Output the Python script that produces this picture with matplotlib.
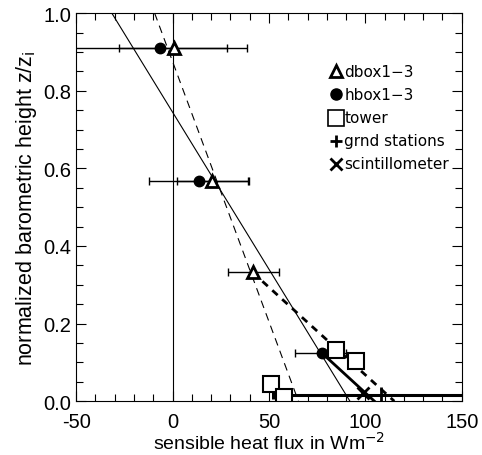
import numpy as np
import matplotlib.pyplot as plt

plt.rcParams['font.family'] = ['Liberation Sans', 'DejaVu Sans']
plt.rcParams['axes.unicode_minus'] = False

# dbox1-3 (triangles) with x error ranges
dbox_h = [0.5, 20.7, 41.5]
dbox_z = [0.91, 0.567, 0.332]
dbox_lo = [-60.0, 2.5, 28.5]
dbox_hi = [38.5, 39.0, 55.0]

# hbox1-3 (circles)
hbox_h = [-6.7, 13.5, 77.5]
hbox_z = [0.91, 0.567, 0.124]
hbox_lo = [-28.0, -12.0, 63.5]
hbox_hi = [28.0, 39.5, 90.0]

# tower (squares)
tower_h = [85.0, 95.0, 51.3, 58.0]
tower_z = [0.131, 0.103, 0.044, 0.012]

# ground stations
grnd_h = [108.0]
grnd_z = [0.015]
grnd_lo = [52.0]
grnd_hi = [170.0]

# scintillometer
scint_h = [98.7]
scint_z = [0.02]

# fitted profiles (end points)
fit_thin_h = [-31.5, 92.0]
fit_thin_z = [1.0, 0.0]
fit_dash_h = [-9.3, 65.3]
fit_dash_z = [1.0, 0.0]
fit_thick_dash_h = [41.5, 115.0]
fit_thick_dash_z = [0.332, 0.0]
fit_thick_h = [77.5, 104.7]
fit_thick_z = [0.124, 0.0]

fig = plt.figure(figsize=(4.82, 4.56), dpi=100)
ax = fig.add_axes([0.158, 0.118, 0.8, 0.851])

ax.axvline(0, color='k', lw=0.8)
ax.plot(fit_thin_h, fit_thin_z, color='k', lw=0.8)
ax.plot(fit_dash_h, fit_dash_z, color='k', lw=0.8, ls=(0, (7, 5)))
ax.plot(fit_thick_dash_h, fit_thick_dash_z, color='k', lw=2.0, ls=(0, (2.6, 2.2)))
ax.plot(fit_thick_h, fit_thick_z, color='k', lw=2.0)


def hbars(h, z, lo, hi, lw=1.0):
    h = np.array(h)
    err = [h - np.array(lo), np.array(hi) - h]
    ax.errorbar(h, z, xerr=err, fmt='none', ecolor='k', elinewidth=lw,
                capsize=3, capthick=lw)


hbars(dbox_h, dbox_z, dbox_lo, dbox_hi)
hbars(hbox_h, hbox_z, hbox_lo, hbox_hi)
hbars(grnd_h, grnd_z, grnd_lo, grnd_hi, lw=2.2)

ax.plot(tower_h, tower_z, 's', ms=11, mfc='white', mec='k', mew=1.5)
ax.plot(hbox_h, hbox_z, 'o', ms=7.5, color='k')
ax.plot(dbox_h, dbox_z, '^', ms=9, mfc='white', mec='k', mew=2)
ax.plot(grnd_h, grnd_z, '+', ms=12, mew=2, color='k')
ax.plot(scint_h, scint_z, 'x', ms=9, mew=2, color='k')

# legend drawn as symbols + text
leg_labels = ['dbox1\u22123', 'hbox1\u22123', 'tower', 'grnd stations', 'scintillometer']
leg_markers = [('^', 'white', 2), ('o', 'k', 1), ('s', 'white', 1.2), ('+', 'k', 2), ('x', 'k', 2)]
leg_sizes = [9, 8, 12, 9, 9]
for i, (lab, (m, fc, mw), s) in enumerate(zip(leg_labels, leg_markers, leg_sizes)):
    yy = 0.85 - i * 0.0595
    ax.plot([0.675], [yy], m, transform=ax.transAxes, ms=s, mfc=fc, mec='k',
            mew=mw, color='k', clip_on=False)
    ax.text(0.695, yy, lab, transform=ax.transAxes, fontsize=11,
            va='center', ha='left', family='DejaVu Sans')

ax.set_xlim(-50, 150)
ax.set_ylim(0, 1.0)
ax.set_xticks([-50, 0, 50, 100, 150])
ax.set_xticks(np.arange(-50, 151, 10), minor=True)
ax.set_yticks([0, 0.2, 0.4, 0.6, 0.8, 1.0])
ax.set_yticks(np.arange(0, 1.001, 0.05), minor=True)
ax.set_yticklabels(['0.0', '0.2', '0.4', '0.6', '0.8', '1.0'])
ax.tick_params(which='both', direction='in', top=True, right=True, labelsize=14.5,
               width=0.8)
ax.tick_params(which='major', length=7)
ax.tick_params(which='minor', length=5)
ax.tick_params(axis='x', pad=8)
for sp in ax.spines.values():
    sp.set_linewidth(0.8)

ax.set_xlabel('sensible heat flux in Wm$^{-2}$', fontsize=14, labelpad=0)
ax.set_ylabel('normalized barometric height z/z$_{\\mathrm{i}}$', fontsize=15.5, labelpad=3)

fig.savefig('out.png', dpi=100)
